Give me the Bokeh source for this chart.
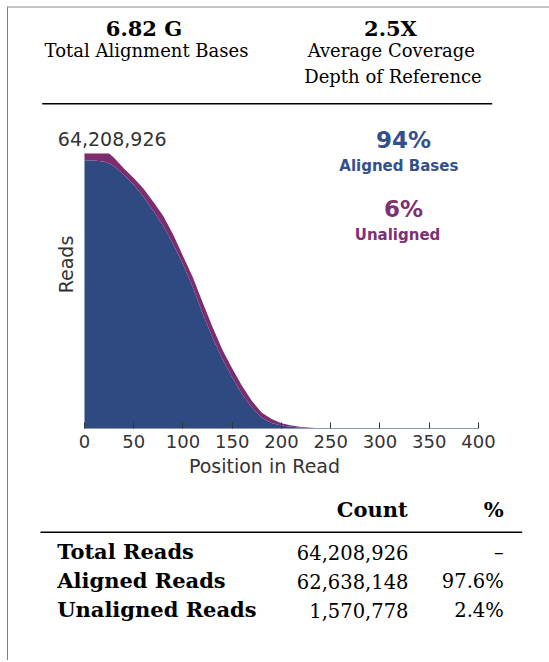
import math
from bokeh.plotting import figure
from bokeh.models import ColumnDataSource, Label, Range1d, FixedTicker
from bokeh.layouts import column
from bokeh.core.properties import value
from bokeh.embed import file_html
from bokeh.resources import INLINE

# ---------------- data ----------------
total_bases_g = 6.82          # Total Alignment Bases (G)
avg_coverage = 2.5            # Average Coverage Depth (X)
aligned_bases_pct = 94
unaligned_bases_pct = 6

row_names = ["Total Reads", "Aligned Reads", "Unaligned Reads"]
row_counts = [64208926, 62638148, 1570778]
row_pcts = [None, 97.6, 2.4]

positions = [0, 10, 20, 25, 30, 40, 50, 60, 70, 80, 90, 100, 110, 120, 130,
             140, 150, 160, 170, 180, 190, 200, 210, 220, 230, 240, 250, 300, 350, 400]
# reads (millions) still covering each position
aligned_m = [62.64, 62.60, 62.30, 61.90, 61.30, 59.20, 56.90, 54.10, 50.80, 47.20,
             43.10, 38.30, 33.00, 26.80, 21.20, 16.20, 11.90, 8.00, 4.90, 2.50,
             1.30, 0.70, 0.40, 0.20, 0.08, 0.03, 0.00, 0.0, 0.0, 0.0]
unaligned_m = [1.57, 1.61, 1.91, 2.31, 1.90, 1.50, 1.60, 1.90, 2.10, 2.40,
               2.20, 2.00, 2.30, 2.60, 2.50, 2.20, 2.10, 1.90, 1.50, 1.20,
               0.90, 0.50, 0.30, 0.15, 0.07, 0.02, 0.01, 0.0, 0.0, 0.0]
x_ticks = [0, 50, 100, 150, 200, 250, 300, 350, 400]

# ---------------- style ----------------
BLUE = "#2e4a81"
PURPLE = "#7c2c6f"
BLUE_TXT = "#34508c"
PURPLE_TXT = "#7d3074"
SANS = "DejaVu Sans"
SERIF = "DejaVu Serif"
W = 541
K = 0.42   # baseline correction factor (fraction of font size)


def blank(h):
    f = figure(width=W, height=h, x_range=Range1d(0, W), y_range=Range1d(h, 0),
               output_backend="svg", toolbar_location=None, min_border=0,
               x_axis_location=None, y_axis_location=None, frame_align=False)
    f.grid.visible = False
    f.outline_line_color = None
    return f


# ---------------- header ----------------
hdr = blank(112)
hdr_items = [
    (f"{total_bases_g:.2f} G", 135.5, 28.7, "bold", 21),
    ("Total Alignment Bases", 138.0, 49.3, "normal", 18),
    (f"{avg_coverage}X", 382.0, 28.7, "bold", 21),
    ("Average Coverage", 382.8, 49.3, "normal", 18),
    ("Depth of Reference", 384.5, 76.0, "normal", 18),
]
for t, x, y, fs, sz in hdr_items:
    hdr.add_layout(Label(x=x, y=y - K * sz, text=t, text_font=SERIF, text_font_style=fs,
                         text_font_size=f"{sz}px", text_align="center",
                         text_baseline="alphabetic", text_color="black"))
hdr.line(x=[33.7, 483.7], y=[95.3, 95.3], line_color="black", line_width=1.4)

# ---------------- chart ----------------
src = ColumnDataSource(dict(pos=positions, aligned=aligned_m, unaligned=unaligned_m))
total_m = row_counts[0] / 1e6
chart = figure(width=W, height=368, x_range=Range1d(-34.5, 400),
               y_range=Range1d(0, total_m * 1.12),
               output_backend="svg", toolbar_location=None, frame_align=False,
               y_axis_location=None, min_border_left=42, min_border_right=71,
               min_border_top=0, min_border_bottom=60)
chart.varea_stack(stackers=["aligned", "unaligned"], x="pos", color=[BLUE, PURPLE], source=src)
chart.grid.visible = False
chart.outline_line_color = None
ax = chart.xaxis[0]
ax.bounds = (0, 400)
ax.ticker = FixedTicker(ticks=x_ticks)
ax.axis_label = "Position in Read"
ax.axis_label_text_font = SANS
ax.axis_label_text_font_style = "normal"
ax.axis_label_text_font_size = "19px"
ax.axis_label_text_color = "#333333"
ax.axis_label_standoff = 4
ax.major_label_text_font = SANS
ax.major_label_text_font_size = "18px"
ax.major_label_text_color = "#333333"
ax.major_label_standoff = 6
ax.axis_line_color = "#8e98b4"
ax.major_tick_line_color = "#333333"
ax.major_tick_in = 6
ax.major_tick_out = 0
ax.minor_tick_line_color = None

chart_labels = [
    (f"{row_counts[0]:,}", 7.3, 282.0, "normal", 19, "#333333", "left"),
    (f"{aligned_bases_pct}%", 353.0, 278.7, "bold", 23, BLUE_TXT, "center"),
    ("Aligned Bases", 348.3, 256.3, "bold", 15, BLUE_TXT, "center"),
    (f"{unaligned_bases_pct}%", 353.0, 209.7, "bold", 23, PURPLE_TXT, "center"),
    ("Unaligned", 347.0, 187.3, "bold", 15, PURPLE_TXT, "center"),
]
for t, x, y, fs, sz, col, al in chart_labels:
    chart.add_layout(Label(x=x, y=y + K * sz, x_units="screen", y_units="screen",
                           text=t, text_font=SANS, text_font_style=fs,
                           text_font_size=f"{sz}px", text_color=col, text_align=al,
                           text_baseline="alphabetic"))
chart.add_layout(Label(x=15.8, y=164, x_units="screen", y_units="screen",
                       text="Reads", angle=math.pi / 2, text_font=SANS, text_font_size="19px",
                       text_color="#333333", text_align="center", text_baseline="middle"))

# ---------------- table ----------------
tbl = blank(172)
tbl.add_layout(Label(x=399.3, y=30.3 - K * 21, text="Count", text_font=SERIF,
                     text_font_style="bold", text_font_size="21px", text_align="right",
                     text_baseline="alphabetic", text_color="black"))
tbl.add_layout(Label(x=495.3, y=30.3 - K * 21, text="%", text_font=SERIF,
                     text_font_style="bold", text_font_size="21px", text_align="right",
                     text_baseline="alphabetic", text_color="black"))
tbl.line(x=[32, 513.7], y=[43.7, 43.7], line_color="black", line_width=1.4)

row_y = [72.0, 101.3, 130.3]
tsrc = ColumnDataSource(dict(
    name=row_names,
    count=[f"{c:,}" for c in row_counts],
    pct=["\u2013" if p is None else f"{p}%" for p in row_pcts],
    yb=[y - K * 21 for y in row_y],
    yr=[y - K * 19.5 for y in row_y],
    xn=[48.7] * 3, xc=[400.0] * 3, xp=[495.3] * 3,
))
tbl.text(x="xn", y="yb", text="name", source=tsrc, text_font=value(SERIF),
         text_font_style="bold", text_font_size="21px", text_align="left",
         text_baseline="alphabetic", text_color="black")
tbl.text(x="xc", y="yr", text="count", source=tsrc, text_font=value(SERIF),
         text_font_size="19.5px", text_align="right", text_baseline="alphabetic",
         text_color="black")
tbl.text(x="xp", y="yr", text="pct", source=tsrc, text_font=value(SERIF),
         text_font_size="19.5px", text_align="right", text_baseline="alphabetic",
         text_color="black")

layout = column(hdr, chart, tbl, spacing=0)
layout.styles = {"margin-left": "7px", "margin-top": "6px",
                 "border-left": "1px solid #7f7f7f", "border-top": "2px solid #c4c4c4"}

with open("out.html", "w") as fh:
    fh.write(file_html(layout, INLINE))
